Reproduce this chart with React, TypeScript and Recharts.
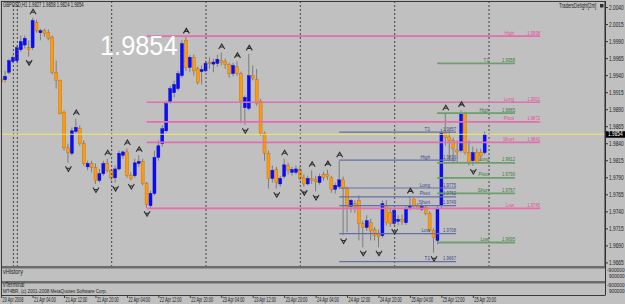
import React from "react";
import {
  Bar,
  ComposedChart,
  ReferenceLine,
  Scatter,
  XAxis,
  YAxis,
} from "recharts";

// GBPUSD H1 candles, oldest first
const opens = [
  1.9936, 1.9934, 1.9945, 1.9961, 1.9962, 1.9978, 1.9985, 1.9981, 1.9981, 2.0018,
  2.0003, 2.0006, 2.0003, 1.9996, 1.9945, 1.9933, 1.9886, 1.9834, 1.9826, 1.9858,
  1.9862, 1.984, 1.9806, 1.9811, 1.9805, 1.9786, 1.9796, 1.9811, 1.9801, 1.979,
  1.9803, 1.9823, 1.9828, 1.9793, 1.9793, 1.9811, 1.9814, 1.9782, 1.9749, 1.9767,
  1.982, 1.984, 1.9859, 1.9902, 1.9915, 1.9921, 1.994, 1.9992, 1.9952, 1.9967,
  1.995, 1.9946, 1.9947, 1.9959, 1.9957, 1.9958, 1.9962, 1.9961, 1.9956, 1.9943,
  1.9953, 1.9943, 1.9893, 1.9892, 1.994, 1.9934, 1.9902, 1.9855, 1.9826, 1.9789,
  1.9802, 1.9781, 1.9792, 1.9808, 1.9798, 1.9798, 1.9802, 1.979, 1.9781, 1.9789,
  1.9787, 1.9783, 1.9795, 1.9795, 1.979, 1.9773, 1.9777, 1.9787, 1.9774, 1.9748,
  1.9752, 1.9757, 1.9723, 1.9717, 1.9724, 1.9714, 1.9708, 1.9705, 1.9749, 1.9739,
  1.9723, 1.9726, 1.9729, 1.9724, 1.9746, 1.9759, 1.9749, 1.9744, 1.9747, 1.9738,
  1.9713, 1.9698, 1.975, 1.9856, 1.985, 1.9845, 1.9831, 1.983, 1.9884, 1.9827,
  1.9815, 1.9827, 1.9827, 1.9827,
];
const highs = [
  1.994, 1.9947, 1.9965, 1.997, 1.9984, 1.9999, 1.9999, 1.9992, 2.0025, 2.0022,
  2.0009, 2.0009, 2.0008, 1.9999, 1.9962, 1.9934, 1.9889, 1.984, 1.9864, 1.9877,
  1.9867, 1.9845, 1.9815, 1.9815, 1.9811, 1.9803, 1.9815, 1.9818, 1.9803, 1.9808,
  1.983, 1.983, 1.9833, 1.9798, 1.9818, 1.9823, 1.9818, 1.9784, 1.9771, 1.983,
  1.9845, 1.9867, 1.9903, 1.9925, 1.9933, 1.9947, 1.9992, 1.9997, 1.997, 1.9971,
  1.9953, 1.9955, 1.9962, 1.9967, 1.9965, 1.9971, 1.9974, 1.9965, 1.9959, 1.9959,
  1.9961, 1.9946, 1.9911, 1.9972, 1.9955, 1.995, 1.9906, 1.9858, 1.983, 1.9808,
  1.9806, 1.9793, 1.9818, 1.9812, 1.9806, 1.9808, 1.9806, 1.9795, 1.9793, 1.9801,
  1.9793, 1.9796, 1.9799, 1.9802, 1.9793, 1.9783, 1.9815, 1.9792, 1.9777, 1.9759,
  1.9757, 1.9764, 1.9727, 1.9735, 1.973, 1.9718, 1.9714, 1.9757, 1.9757, 1.9746,
  1.9746, 1.9735, 1.9736, 1.9749, 1.9762, 1.976, 1.9753, 1.9752, 1.9749, 1.9741,
  1.9716, 1.975, 1.9862, 1.9884, 1.9859, 1.9849, 1.9845, 1.9889, 1.9887, 1.9845,
  1.9836, 1.9833, 1.9833, 1.9858,
];
const lows = [
  1.9925, 1.993, 1.9942, 1.9958, 1.9959, 1.9975, 1.998, 1.9968, 1.9978, 2.0003,
  1.9992, 1.9997, 1.9992, 1.9942, 1.9921, 1.9883, 1.983, 1.9812, 1.9823, 1.9855,
  1.9837, 1.9808, 1.9801, 1.9798, 1.9781, 1.9783, 1.9793, 1.9798, 1.9786, 1.9783,
  1.9801, 1.9818, 1.979, 1.9786, 1.979, 1.9806, 1.9779, 1.9746, 1.9746, 1.9764,
  1.9815, 1.9836, 1.9856, 1.9899, 1.9908, 1.9918, 1.9937, 1.9947, 1.9945, 1.994,
  1.9927, 1.9927, 1.9945, 1.995, 1.9945, 1.9953, 1.9955, 1.995, 1.9937, 1.9939,
  1.994, 1.987, 1.9868, 1.9889, 1.9933, 1.9896, 1.9852, 1.9815, 1.9774, 1.9783,
  1.9774, 1.9777, 1.9789, 1.9795, 1.9793, 1.9795, 1.9786, 1.9777, 1.9779, 1.9781,
  1.977, 1.978, 1.9786, 1.9787, 1.9768, 1.9767, 1.9774, 1.9706, 1.971, 1.9739,
  1.9739, 1.9698, 1.9688, 1.9712, 1.9698, 1.9698, 1.9688, 1.9702, 1.972, 1.9718,
  1.972, 1.972, 1.9721, 1.9721, 1.9742, 1.9745, 1.9743, 1.9741, 1.9735, 1.971,
  1.968, 1.9692, 1.9745, 1.9837, 1.9815, 1.9812, 1.9812, 1.9827, 1.9824, 1.9808,
  1.9808, 1.9811, 1.9815, 1.9824,
];
const closes = [
  1.993, 1.9939, 1.9962, 1.9967, 1.9981, 1.999, 1.9995, 1.9978, 2.0021, 2.0006,
  2.0006, 2.0002, 1.9995, 1.9945, 1.9933, 1.9884, 1.9834, 1.9827, 1.9859, 1.9864,
  1.984, 1.9811, 1.9811, 1.9805, 1.9786, 1.9796, 1.9811, 1.9801, 1.979, 1.9803,
  1.9826, 1.9828, 1.9793, 1.9789, 1.9812, 1.9814, 1.9782, 1.9751, 1.9767, 1.982,
  1.9837, 1.9862, 1.9899, 1.9921, 1.9927, 1.9943, 1.9987, 1.9952, 1.9967, 1.9947,
  1.993, 1.9949, 1.9958, 1.9958, 1.996, 1.9964, 1.9959, 1.9956, 1.9943, 1.9955,
  1.9943, 1.9903, 1.9908, 1.994, 1.9936, 1.9899, 1.9855, 1.9826, 1.9789, 1.9801,
  1.9783, 1.9789, 1.9809, 1.9801, 1.9802, 1.9803, 1.9789, 1.9781, 1.9789, 1.9786,
  1.9784, 1.9792, 1.979, 1.9792, 1.9773, 1.9779, 1.9787, 1.9774, 1.9745, 1.9757,
  1.9746, 1.9723, 1.9717, 1.9727, 1.9712, 1.9705, 1.9704, 1.9752, 1.9724, 1.9723,
  1.9742, 1.9729, 1.9726, 1.9745, 1.9749, 1.9749, 1.9745, 1.9748, 1.9738, 1.9713,
  1.9702, 1.9745, 1.9856, 1.9849, 1.9845, 1.9833, 1.9828, 1.9884, 1.9827, 1.9812,
  1.9827, 1.9812, 1.9822, 1.9854,
];

// bar indexes carrying a fractal mark
const upFractals = [8, 19, 27, 32, 35, 47, 56, 60, 63, 72, 79, 83, 86, 104, 113, 117];
const downFractals = [7, 17, 24, 29, 33, 37, 62, 70, 77, 80, 87, 92, 96, 100, 110, 120];

const daySeparators = [3, 4, 28, 52, 76, 100, 124];

const timeTicks = [0, 8, 16, 24, 32, 40, 48, 56, 64, 72, 80, 88, 96, 104, 112, 120];
const timeLabels = [
  "20 Apr 2008", "21 Apr 04:00", "21 Apr 12:00", "21 Apr 20:00",
  "22 Apr 04:00", "22 Apr 12:00", "22 Apr 20:00", "23 Apr 04:00",
  "23 Apr 12:00", "23 Apr 20:00", "24 Apr 04:00", "24 Apr 12:00",
  "24 Apr 20:00", "25 Apr 04:00", "25 Apr 12:00", "25 Apr 20:00",
];

const priceTicks = [
  2.004, 2.0015, 1.999, 1.9965, 1.994, 1.9915, 1.989, 1.9865,
  1.984, 1.9815, 1.979, 1.9765, 1.974, 1.9715, 1.969, 1.9665,
];
const lastPrice = 1.9854;

// TradersDelight pivot sets
const dailyNames = ["High", "Long", "Pivot", "Short", "Low"];
const dailyValues = [1.9998, 1.9901, 1.9872, 1.9842, 1.9745];
const dailySpan = [36.9, 137];

const prevNames = ["T1", "High", "Long", "Pivot", "Short", "Low", "T1"];
const prevValues = [1.9857, 1.9816, 1.9775, 1.9762, 1.9749, 1.9708, 1.9667];
const prevSpan = [85.9, 115.6];

const nextNames = ["T1", "High", "Long", "Pivot", "Short", "Low"];
const nextValues = [1.9958, 1.9885, 1.9812, 1.979, 1.9767, 1.9695];
const nextSpan = [110.8, 130.6];

const X_DOMAIN = [0.1, 153.5];
const Y_DOMAIN = [1.9659, 2.00482];
const BG = "#c0c0c0";
const FONT = "'Liberation Sans', Arial, sans-serif";

// MT4 text is narrow, so squeeze it horizontally
function Squeeze(props: any) {
  const { x, y, sx, children, ...rest } = props;
  return (
    <text transform={`translate(${x},${y}) scale(${sx},1)`} fontFamily={FONT} {...rest}>
      {children}
    </text>
  );
}

function Candle(props: any) {
  const { x, width, payload } = props;
  let { y, height } = props;
  if (height < 0) {
    y = y + height;
    height = -height;
  }
  const { open, close, high, low } = payload;
  const cx = x + width / 2;
  const range = high - low || 1;
  const toY = (v: number) => y + ((high - v) / range) * height;
  const bull = close >= open;
  const top = toY(Math.max(open, close));
  const bottom = toY(Math.min(open, close));
  return (
    <g>
      <line x1={cx} x2={cx} y1={y} y2={y + height} stroke="#7c7c7c" strokeWidth={1} />
      <rect
        x={cx - 1.5}
        y={top}
        width={3}
        height={Math.max(1, bottom - top)}
        fill={bull ? "#0a0aff" : "#ff9a10"}
        stroke={bull ? "#0000c8" : "#b86a00"}
        strokeWidth={0.4}
      />
    </g>
  );
}

function UpMark(props: any) {
  const { cx, cy } = props;
  const c = cy - 6;
  return (
    <path
      d={`M${cx - 3},${c + 2.5} L${cx},${c - 2.5} L${cx + 3},${c + 2.5} M${cx - 1.5},${c + 0.5} L${cx + 1.5},${c + 0.5}`}
      stroke="#2a2a2a"
      strokeWidth={1.1}
      fill="none"
    />
  );
}

function DownMark(props: any) {
  const { cx, cy } = props;
  const c = cy + 6;
  return (
    <path
      d={`M${cx - 3},${c - 2.5} L${cx},${c + 2.5} L${cx + 3},${c - 2.5} M${cx - 1.5},${c - 0.5} L${cx + 1.5},${c - 0.5}`}
      stroke="#2a2a2a"
      strokeWidth={1.1}
      fill="none"
    />
  );
}

function PriceTick(props: any) {
  const { y, payload } = props;
  return (
    <g>
      <line x1={605} x2={608} y1={y} y2={y} stroke="#303030" />
      <Squeeze x={609} y={y + 2} sx={0.74} fontSize={6.5} fill="#202020">
        {payload.value.toFixed(4)}
      </Squeeze>
    </g>
  );
}

function LastPriceBox(props: any) {
  const { viewBox } = props;
  const y = viewBox.y;
  return (
    <g>
      <rect x={606} y={y - 3} width={19} height={6.5} fill="#000" />
      <Squeeze x={608} y={y + 2} sx={0.74} fontSize={6.5} fill="#fff">
        {lastPrice.toFixed(4)}
      </Squeeze>
    </g>
  );
}

function TimeTick(props: any) {
  const { x, payload } = props;
  const label = timeLabels[timeTicks.indexOf(payload.value)];
  return (
    <g>
      <line x1={x} x2={x} y1={28} y2={31} stroke="#404040" />
      <Squeeze x={x + 1} y={34.5} sx={0.59} fontSize={6.5} fill="#202020">
        {label}
      </Squeeze>
    </g>
  );
}

const levelLabel = (name: string, value: number, color: string) => (props: any) => {
  const { viewBox } = props;
  const xEnd = viewBox.x + viewBox.width;
  const y = viewBox.y - 1.5;
  return (
    <g fill={color} fontSize={5.5}>
      <Squeeze x={xEnd - 26} y={y} sx={0.85} textAnchor="end">
        {name}
      </Squeeze>
      <Squeeze x={xEnd} y={y} sx={0.77} textAnchor="end">
        {value.toFixed(4)}
      </Squeeze>
    </g>
  );
};

function levelLines(
  names: string[],
  values: number[],
  span: number[],
  stroke: string,
  text: string,
  width: number
) {
  return values.map((v, i) => (
    <ReferenceLine
      key={names[i] + v}
      segment={[
        { x: span[0], y: v },
        { x: span[1], y: v },
      ]}
      stroke={stroke}
      strokeWidth={width}
      label={levelLabel(names[i], v, text)}
    />
  ));
}

export default function App() {
  const bars = opens.map((open, i) => ({
    i,
    open,
    high: highs[i],
    low: lows[i],
    close: closes[i],
  }));
  const upData = upFractals.map((k) => ({ i: k, y: highs[k] }));
  const downData = downFractals.map((k) => ({ i: k, y: lows[k] }));

  return (
    <div
      style={{
        position: "absolute",
        left: 0,
        top: 0,
        width: 625,
        height: 304,
        background: BG,
        overflow: "hidden",
      }}
    >
      <div style={{ position: "absolute", left: 0, top: 0 }}>
        <ComposedChart
          width={625}
          height={268}
          data={bars}
          margin={{ top: 2, right: 0, bottom: 1, left: 2 }}
        >
          <XAxis type="number" dataKey="i" domain={X_DOMAIN} allowDataOverflow hide />
          <YAxis
            orientation="right"
            width={20}
            domain={Y_DOMAIN}
            allowDataOverflow
            ticks={priceTicks}
            interval={0}
            axisLine={{ stroke: "#303030" }}
            tickLine={false}
            tick={(p: any) => <PriceTick {...p} />}
          />
          {daySeparators.map((k) => (
            <ReferenceLine key={k} x={k} stroke="#454545" strokeDasharray="2 2" />
          ))}
          {levelLines(dailyNames, dailyValues, dailySpan, "#e66cb0", "#e0509e", 1.7)}
          {levelLines(nextNames, nextValues, nextSpan, "#6e9e6e", "#3f7a3f", 1.8)}
          {levelLines(prevNames, prevValues, prevSpan, "#6270a8", "#3c4a88", 1.2)}
          <ReferenceLine
            y={lastPrice}
            stroke="#ecec50"
            strokeWidth={1.2}
            label={(p: any) => <LastPriceBox {...p} />}
          />
          <Bar
            dataKey={(d: any) => [d.low, d.high]}
            barSize={3}
            shape={(p: any) => <Candle {...p} />}
            isAnimationActive={false}
          />
          <Scatter
            data={upData}
            dataKey="y"
            shape={(p: any) => <UpMark {...p} />}
            isAnimationActive={false}
          />
          <Scatter
            data={downData}
            dataKey="y"
            shape={(p: any) => <DownMark {...p} />}
            isAnimationActive={false}
          />
        </ComposedChart>
      </div>

      <div style={{ position: "absolute", left: 0, top: 267 }}>
        <ComposedChart
          width={625}
          height={37}
          data={bars}
          margin={{ top: 2, right: 20, bottom: 0, left: 2 }}
        >
          <XAxis
            type="number"
            dataKey="i"
            domain={X_DOMAIN}
            allowDataOverflow
            ticks={timeTicks}
            interval={0}
            height={9}
            axisLine={false}
            tickLine={false}
            tick={(p: any) => <TimeTick {...p} />}
          />
          <YAxis hide domain={[0, 1]} />
          {daySeparators.map((k) => (
            <ReferenceLine key={k} x={k} stroke="#454545" strokeDasharray="2 2" />
          ))}
        </ComposedChart>
      </div>

      <svg
        width={625}
        height={304}
        style={{ position: "absolute", left: 0, top: 0, pointerEvents: "none" }}
      >
        <rect x={1} y={266} width={604.5} height={2.5} fill="#6c6c6c" />
        <rect x={1} y={281} width={604.5} height={2.5} fill="#6c6c6c" />
        <line x1={1.5} x2={1.5} y1={1} y2={295} stroke="#3a3a3a" />
        <line x1={1} x2={605.5} y1={1.5} y2={1.5} stroke="#3a3a3a" />
        <line x1={605.5} x2={605.5} y1={1} y2={295} stroke="#303030" />
        <line x1={1} x2={605.5} y1={295.5} y2={295.5} stroke="#3a3a3a" />

        <Squeeze x={3} y={7} sx={0.65} fontSize={6.5} fill="#202020">
          GBPUSD,H1  1.9827 1.9858 1.9824 1.9854
        </Squeeze>
        <Squeeze x={100} y={55} sx={0.94} fontSize={27} fill="#ffffff">
          1.9854
        </Squeeze>
        <Squeeze x={559} y={8} sx={0.68} fontSize={6.5} fill="#202020">
          TradersDelight[2m]
        </Squeeze>
        <rect x={600} y={4} width={3.5} height={3.5} fill="#303030" />

        <Squeeze x={3} y={274} sx={0.85} fontSize={6.5} fill="#202020">
          vHistory
        </Squeeze>
        <Squeeze x={3} y={287} sx={0.77} fontSize={6.5} fill="#202020">
          vTerminal
        </Squeeze>
        <Squeeze x={3} y={292.5} sx={0.76} fontSize={6} fill="#202020">
          MT4BR, (c) 2001-2008 MetaQuotes Software Corp.
        </Squeeze>

        <Squeeze x={607} y={272} sx={0.8} fontSize={6} fill="#202020">
          -900000
        </Squeeze>
        <Squeeze x={609} y={278} sx={0.78} fontSize={6} fill="#202020">
          900000
        </Squeeze>
        <Squeeze x={607} y={287} sx={0.8} fontSize={6} fill="#202020">
          -900000
        </Squeeze>
        <Squeeze x={609} y={293} sx={0.78} fontSize={6} fill="#202020">
          900000
        </Squeeze>
      </svg>
    </div>
  );
}
